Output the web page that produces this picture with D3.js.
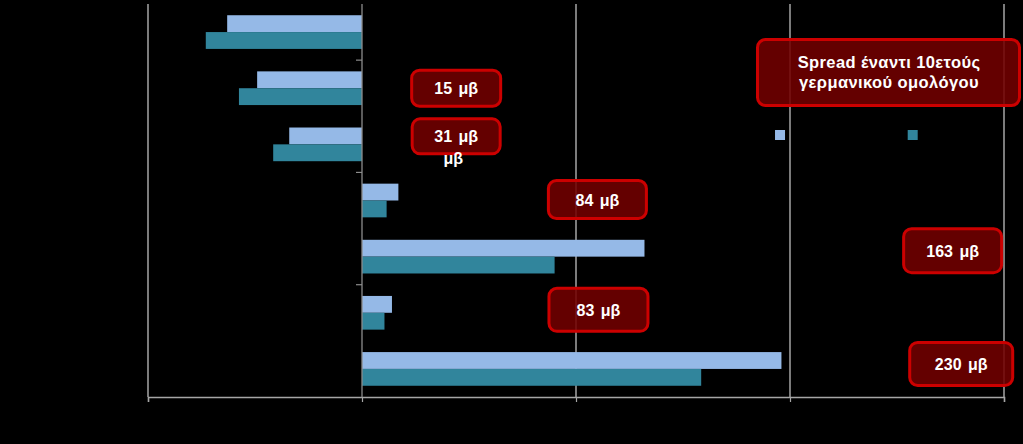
<!DOCTYPE html>
<html>
<head>
<meta charset="utf-8">
<script src="https://cdn.jsdelivr.net/npm/d3@7/dist/d3.min.js"></script>
<style>
  html, body { margin: 0; padding: 0; background: #000; }
  svg { display: block; }
</style>
</head>
<body>
<svg id="chart" width="1023" height="444"></svg>
<script>
// ---- data ----
const categories = ["Κατηγορία 1", "Κατηγορία 2", "Κατηγορία 3", "Κατηγορία 4", "Κατηγορία 5", "Κατηγορία 6", "Κατηγορία 7"];
const seriesNames = ["Σειρά 1", "Σειρά 2"];
const seriesA = [-0.63, -0.49, -0.34, 0.17, 1.32, 0.14, 1.96];
const seriesB = [-0.73, -0.575, -0.415, 0.115, 0.90, 0.105, 1.585];
const xTicks = [-1, 0, 1, 2, 3];
const calloutTexts = ["15 μβ", "31 μβ", "84 μβ", "163 μβ", "83 μβ", "230 μβ"];
const calloutX = [0.44, 0.44, 1.10, 2.76, 1.105, 2.80];
const calloutCat = [1, 2, 3, 4, 5, 6];
const titleLines = ["Spread έναντι 10ετούς", "γερμανικού  ομολόγου"];

const colA = "#95b9e7", colB = "#31859c";
const svg = d3.select("#chart");

const x = d3.scaleLinear().domain([-1, 3]).range([148, 1004]);
const y = d3.scaleBand().domain(categories).range([4, 397]).paddingInner(0.4).paddingOuter(0.2);
const sub = d3.scaleBand().domain(seriesNames).range([0, y.bandwidth()]);

// gridlines
svg.append("g").selectAll("line").data(xTicks.filter(t => t !== 0)).join("line")
  .attr("x1", d => x(d)).attr("x2", d => x(d))
  .attr("y1", 4).attr("y2", 397)
  .attr("stroke", "#cfcfcf").attr("stroke-width", 1.2);

// bottom axis
const xAxis = d3.axisBottom(x).tickValues(xTicks).tickSize(5).tickFormat("");
const gx = svg.append("g").attr("transform", "translate(0,397)").call(xAxis);
gx.select(".domain").attr("stroke", "#a6a6a6").attr("stroke-width", 1.5);
gx.selectAll(".tick line").attr("stroke", "#a6a6a6").attr("stroke-width", 1.2);

// bars
const rows = categories.map((c, i) => ({ c, a: seriesA[i], b: seriesB[i] }));
const g = svg.append("g");
rows.forEach(r => {
  [[r.a, seriesNames[0], colA], [r.b, seriesNames[1], colB]].forEach(([v, s, col]) => {
    g.append("rect")
      .attr("x", x(Math.min(0, v)))
      .attr("width", Math.abs(x(v) - x(0)))
      .attr("y", y(r.c) + sub(s))
      .attr("height", sub.bandwidth())
      .attr("fill", col);
  });
});

// zero axis with ticks on every other category boundary
const boundaries = d3.range(1, categories.length, 2).map(i => y(categories[i]) - y.step() * y.paddingInner() / 2);
svg.append("line").attr("x1", x(0)).attr("x2", x(0)).attr("y1", 4).attr("y2", 397)
  .attr("stroke", "#8c8c8c").attr("stroke-width", 1.3);
svg.append("g").selectAll("line").data(boundaries).join("line")
  .attr("x1", x(0) - 6).attr("x2", x(0)).attr("y1", d => d).attr("y2", d => d)
  .attr("stroke", "#8c8c8c").attr("stroke-width", 1.2);

// legend squares
const legendX = [1.93, 2.55];
seriesNames.forEach((s, i) => {
  svg.append("rect").attr("x", x(legendX[i])).attr("y", 130).attr("width", 10).attr("height", 10)
    .attr("fill", i === 0 ? colA : colB);
});

// callouts
function box(cx, cy, w, h) {
  svg.append("rect").attr("x", cx - w / 2).attr("y", cy - h / 2).attr("width", w).attr("height", h)
    .attr("rx", 8).attr("ry", 8)
    .attr("fill", "#720000").attr("fill-opacity", 0.88)
    .attr("stroke", "#cc0000").attr("stroke-width", 3);
}
const boxW = [89, 88, 98, 98, 99, 103];
const boxH = [36, 35, 38, 44, 43, 43];
const boxDy = [0, -8, -1, -6, -3, -5];
calloutTexts.forEach((t, i) => {
  const cy = y(categories[calloutCat[i]]) + y.bandwidth() / 2 + boxDy[i];
  const cx = x(calloutX[i]);
  box(cx, cy, boxW[i], boxH[i]);
  svg.append("text").attr("x", cx).attr("y", cy + 6).attr("text-anchor", "middle")
    .attr("font-family", "Liberation Sans, Arial, sans-serif").attr("font-weight", "bold")
    .attr("font-size", 16).attr("word-spacing", 2).attr("fill", "#ffffff").text(t);
});
// stray second "μβ" under the 31 μβ box
svg.append("text").attr("x", x(calloutX[1]) - 3).attr("y", 164).attr("text-anchor", "middle")
  .attr("font-family", "Liberation Sans, Arial, sans-serif").attr("font-weight", "bold")
  .attr("font-size", 16).attr("fill", "#ffffff").text("μβ");

// title callout
box(888.5, 72.5, 262, 66);
titleLines.forEach((t, i) => {
  svg.append("text").attr("x", 889).attr("y", 68 + i * 20).attr("text-anchor", "middle")
    .attr("font-family", "Liberation Sans, Arial, sans-serif").attr("font-weight", "bold")
    .attr("font-size", 16.5).attr("letter-spacing", 0.4).attr("fill", "#ffffff").text(t);
});
</script>
</body>
</html>
